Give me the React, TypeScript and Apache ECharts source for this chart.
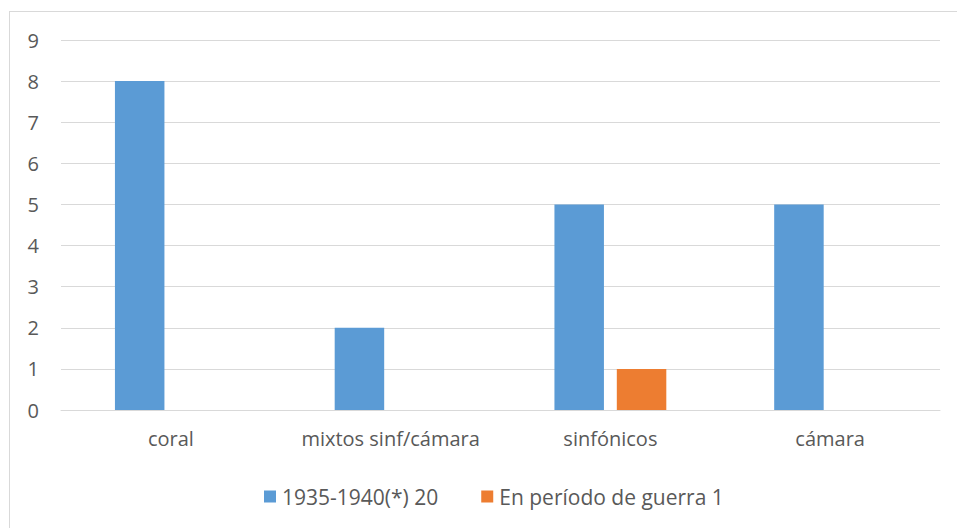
import React, { useEffect, useRef } from "react";
import * as echarts from "echarts";

const categories = ["coral", "mixtos sinf/cámara", "sinfónicos", "cámara"];
const seriesANames = "1935-1940(*) 20";
const seriesAValues = [8, 2, 5, 5];
const seriesBName = "En período de guerra 1";
const seriesBValues = [0, 0, 1, 0];
const yTicks = { min: 0, max: 9, interval: 1 };

const FONT = "Open Sans";
const TEXT = "#595959";
const GRID = "#D9D9D9";

export default function App() {
  const ref = useRef<HTMLDivElement>(null);
  useEffect(() => {
    if (!ref.current) return;
    const chart = echarts.init(ref.current, undefined, { renderer: "svg" });
    chart.setOption({
      animation: false,
      backgroundColor: "#ffffff",
      textStyle: { fontFamily: FONT },
      grid: { left: 61, right: 17, top: 40, bottom: 118 },
      legend: {
        data: [seriesANames, seriesBName],
        left: 259,
        top: 481,
        itemWidth: 12,
        itemHeight: 12,
        itemGap: 43,
        icon: "rect",
        textStyle: { fontFamily: FONT, fontSize: 21, color: TEXT, padding: [0, 0, 0, 1] },
      },
      xAxis: {
        type: "category",
        data: categories,
        axisLine: { show: true, lineStyle: { color: GRID, width: 1 } },
        axisTick: { show: false },
        axisLabel: { fontFamily: FONT, fontSize: 20, color: TEXT, margin: 18, interval: 0 },
      },
      yAxis: {
        type: "value",
        min: yTicks.min,
        max: yTicks.max,
        interval: yTicks.interval,
        axisLine: { show: false },
        axisTick: { show: false },
        splitLine: { lineStyle: { color: GRID, width: 1 } },
        axisLabel: { fontFamily: FONT, fontSize: 20, color: TEXT, margin: 22 },
      },
      series: [
        {
          name: seriesANames,
          type: "bar",
          data: seriesAValues,
          barWidth: 49.5,
          barGap: "26%",
          itemStyle: { color: "#5B9BD5" },
        },
        {
          name: seriesBName,
          type: "bar",
          data: seriesBValues,
          barWidth: 49.5,
          barGap: "26%",
          itemStyle: { color: "#ED7D31" },
        },
      ],
      graphic: [
        {
          type: "line",
          shape: { x1: 9.5, y1: 11, x2: 9.5, y2: 528 },
          style: { stroke: GRID, lineWidth: 1 },
        },
        {
          type: "line",
          shape: { x1: 9, y1: 11.5, x2: 957, y2: 11.5 },
          style: { stroke: GRID, lineWidth: 1 },
        },
      ],
    });
    return () => chart.dispose();
  }, []);
  return (
    <div
      ref={ref}
      style={{ position: "fixed", left: 0, top: 0, width: 957, height: 528 }}
    />
  );
}
